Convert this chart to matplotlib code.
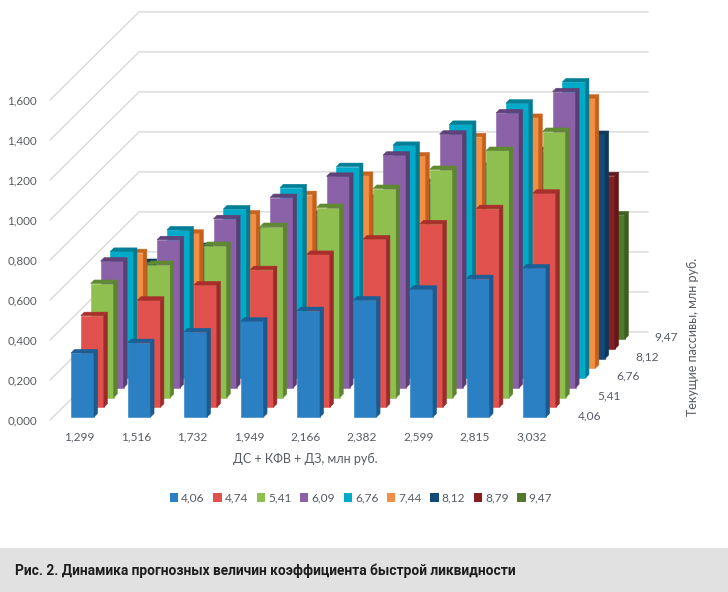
#!/usr/bin/env python3
"""Excel style 3D column chart: quick ratio forecast, drawn as an oblique projection."""
import matplotlib

matplotlib.use("Agg")
import matplotlib.pyplot as plt
from matplotlib.patches import Patch, Polygon, Rectangle

plt.rcParams["font.family"] = ["Lato", "Noto Sans", "DejaVu Sans"]

# ДС + КФВ + ДЗ
categories = ["1,299", "1,516", "1,732", "1,949", "2,166", "2,382", "2,599", "2,815", "3,032"]
series_names = ["4,06", "4,74", "5,41", "6,09", "6,76", "7,44", "8,12", "8,79", "9,47"]
depth_labels = ["4,06", "5,41", "6,76", "8,12", "9,47"]
y_ticks = [0.0, 0.2, 0.4, 0.6, 0.8, 1.0, 1.2, 1.4, 1.6]

s406 = [0.320, 0.372, 0.426, 0.479, 0.532, 0.585, 0.639, 0.692, 0.745]
s474 = [0.458, 0.535, 0.611, 0.688, 0.764, 0.841, 0.917, 0.993, 1.070]
s541 = [0.570, 0.665, 0.760, 0.855, 0.950, 1.045, 1.140, 1.235, 1.330]
s609 = [0.633, 0.740, 0.845, 0.951, 1.057, 1.163, 1.268, 1.374, 1.480]
s676 = [0.633, 0.740, 0.845, 0.951, 1.057, 1.163, 1.268, 1.374, 1.480]
s744 = [0.578, 0.675, 0.771, 0.868, 0.964, 1.061, 1.157, 1.254, 1.350]
s812 = [0.480, 0.560, 0.640, 0.720, 0.800, 0.880, 0.960, 1.040, 1.120]
s879 = [0.370, 0.432, 0.494, 0.556, 0.618, 0.680, 0.741, 0.803, 0.865]
s947 = [0.265, 0.309, 0.353, 0.398, 0.442, 0.486, 0.530, 0.574, 0.620]
all_series = [s406, s474, s541, s609, s676, s744, s812, s879, s947]

# front, top, side
FACE_COLOURS = [
    ("#2a80c2", "#1c5f96", "#1b5a8e"),
    ("#e1514e", "#a92e2c", "#9a2c2b"),
    ("#8fbf4e", "#5f8a32", "#5d8431"),
    ("#8b62a8", "#5f4279", "#5a3e72"),
    ("#00abc9", "#007f96", "#007c92"),
    ("#f38f44", "#c8631c", "#c4601a"),
    ("#134a78", "#0e3a60", "#0d375b"),
    ("#842022", "#651819", "#621718"),
    ("#4f7a2a", "#3f6122", "#3c5c20"),
]
TEXT = "#565b63"
GRID = "#d9d9d9"

BAR_W = 0.407
BAR_D = 0.36
WALL_X0, WALL_X1 = -0.318, 8.69
WALL_D0, WALL_D1 = -0.3, 8.73


def project(x, d, z=0.0):
    """Category position, series depth and value to picture coordinates."""
    return 71 + 56.5 * x + 9.85 * d, 417 - 9.75 * d - 200 * z


def draw_bar(ax, c, s, value, colours):
    front, top, side = colours
    x0, x1 = c, c + BAR_W
    d0, d1 = s, s + BAR_D
    ax.add_patch(Polygon([project(x0, d0), project(x1, d0), project(x1, d0, value), project(x0, d0, value)],
                         facecolor=front, edgecolor=front, linewidth=0.4, zorder=3))
    ax.add_patch(Polygon([project(x1, d0), project(x1, d1), project(x1, d1, value), project(x1, d0, value)],
                         facecolor=side, edgecolor=side, linewidth=0.4, zorder=3))
    ax.add_patch(Polygon([project(x0, d0, value), project(x1, d0, value), project(x1, d1, value), project(x0, d1, value)],
                         facecolor=top, edgecolor=top, linewidth=0.4, zorder=3))


fig = plt.figure(figsize=(7.28, 5.92), dpi=100)
ax = fig.add_axes([0, 0, 1, 1])
ax.set_xlim(0, 728)
ax.set_ylim(592, 0)
ax.set_axis_off()

# walls
for t in y_ticks:
    xa, ya = project(WALL_X0, WALL_D0, t)
    xb, yb = project(WALL_X0, WALL_D1, t)
    xc, yc = project(WALL_X1, WALL_D1, t)
    ax.plot([xa, xb, xc], [ya, yb, yc], color=GRID, linewidth=1.0, zorder=1, solid_joinstyle="miter")
    ax.text(37, ya + 0.5, f"{t:.3f}".replace(".", ","), ha="right", va="center", fontsize=8.4, color=TEXT)

# back series first so the nearer ones cover them
for s in range(len(all_series) - 1, -1, -1):
    for c, value in enumerate(all_series[s]):
        draw_bar(ax, c, s, value, FACE_COLOURS[s])

for c, label in enumerate(categories):
    ax.text(project(c + BAR_W / 2, 0)[0] - 3, 437, label, ha="center", va="center", fontsize=8.6, color=TEXT)

for i, label in enumerate(depth_labels):
    ax.text(590 + 19 * i, 416 - 19.8 * i, label, ha="center", va="center", fontsize=8.6, color=TEXT)

ax.text(305, 459, "ДС + КФВ + ДЗ, млн руб.", ha="center", va="center", fontsize=9, color=TEXT)
ax.text(693, 337, "Текущие пассивы, млн руб.", rotation=90, ha="center", va="center", fontsize=9, color=TEXT)

handles = [Patch(facecolor=FACE_COLOURS[i][0], edgecolor="none", label=name) for i, name in enumerate(series_names)]
ax.legend(handles=handles, ncol=len(handles), loc="center", bbox_to_anchor=(361, 498),
          bbox_transform=ax.transData, frameon=False, fontsize=8.6, labelcolor=TEXT,
          handlelength=0.7, handleheight=0.7, handletextpad=0.25, columnspacing=0.72, borderpad=0)

# caption band
ax.add_patch(Rectangle((0, 548), 728, 44, facecolor="#e1e1e1", edgecolor="none", zorder=1))
ax.text(15, 571, "Рис. 2. Динамика прогнозных величин коэффициента быстрой ликвидности",
        ha="left", va="center", fontsize=9.95, fontweight="bold", color="#1c1c1c",
        family=["Roboto", "DejaVu Sans"], zorder=2)

fig.savefig("out.png", dpi=100)
